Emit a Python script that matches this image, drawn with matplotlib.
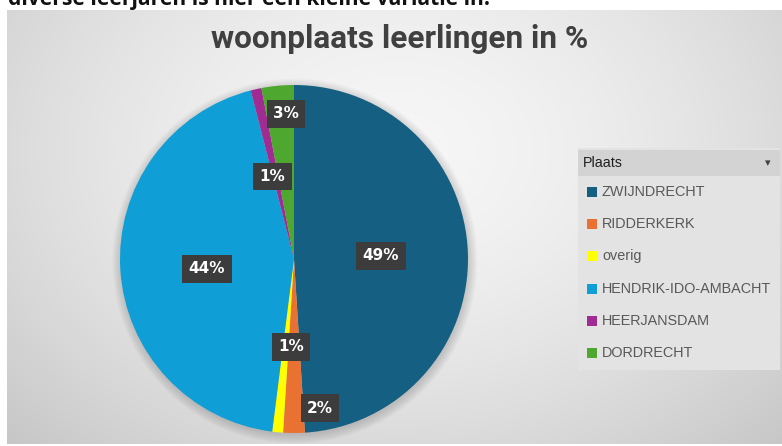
import numpy as np
import matplotlib
matplotlib.use('Agg')
import matplotlib.pyplot as plt
from matplotlib.patches import Rectangle, Circle

# ---- data ----
places = ['ZWIJNDRECHT', 'RIDDERKERK', 'overig', 'HENDRIK-IDO-AMBACHT', 'HEERJANSDAM', 'DORDRECHT']
shares = [49, 2, 1, 44, 1, 3]
colors = ['#156082', '#E97132', '#FFFF00', '#0F9ED5', '#A02B93', '#4EA72E']
title = 'woonplaats leerlingen in %'
legend_title = 'Plaats'
top_text = 'diverse leerjaren is hier een kleine variatie in.'

W, H = 782, 446
fig = plt.figure(figsize=(W / 100, H / 100), dpi=100)
fig.patch.set_facecolor('white')


def px(x0, y0, x1, y1):
    return [x0 / W, 1 - y1 / H, (x1 - x0) / W, (y1 - y0) / H]


# ---- chart area background (gradient) ----
bg = fig.add_axes(px(7, 10, 782, 444))
bg.set_axis_off()
yy, xx = np.mgrid[0:434, 0:775]
d = np.sqrt(((xx - 390) / 480.0) ** 2 + ((yy - 140) / 360.0) ** 2)
val = 0.965 - 0.15 * np.clip(d, 0, 1.3) ** 1.6
bg.imshow(np.dstack([val] * 3), extent=[0, 1, 0, 1], aspect='auto', origin='upper')
bg.set_xlim(0, 1)
bg.set_ylim(0, 1)

renderer = fig.canvas.get_renderer()


def fit_text(t, target_w):
    bb = t.get_window_extent(renderer=renderer)
    t.set_fontsize(t.get_fontsize() * target_w / bb.width)


# ---- cut-off text at the very top ----
tt = fig.text(8 / W, 1 - 5.5 / H, top_text, ha='left', va='baseline',
              fontsize=16, color='#111111', family='Open Sans', fontweight='bold')
fit_text(tt, 480)

# ---- title ----
ti = fig.text(400 / W, 1 - 48 / H, title, ha='center', va='baseline',
              fontsize=20, color='#404040', fontweight='bold', family='Roboto')
fit_text(ti, 376)

# ---- pie ----
R, PCX, PCY = 174, 294, 259
ax = fig.add_axes(px(PCX - R, PCY - R, PCX + R, PCY + R))
ax.set_axis_off()
for k in range(8):
    ax.add_patch(Circle((0.005, -0.012), 1.0 + 0.007 * k, facecolor='black', alpha=0.018,
                        lw=0, zorder=0, clip_on=False))
wedges, _ = ax.pie(shares, colors=colors, startangle=90, counterclock=False,
                   radius=1, wedgeprops=dict(linewidth=0))
ax.set_xlim(-1, 1)
ax.set_ylim(-1, 1)

label_r = [0.50, 0.87, 0.506, 0.503, 0.49, 0.835]
label_dang = [0.2, 9.9, 3.4, 2.9, 2.2, -2.2]
for w, s, r, da in zip(wedges, shares, label_r, label_dang):
    ang = np.deg2rad((w.theta1 + w.theta2) / 2 + da)
    x, y = r * np.cos(ang), r * np.sin(ang)
    ax.text(x, y, f'{s}%', ha='center', va='center', color='white',
            fontsize=11, fontweight='bold', zorder=5,
            bbox=dict(boxstyle='square,pad=0.42', fc='#3c3c3c', ec='none'))

# ---- legend (slicer-like box) ----
fig.patches.append(Rectangle((578 / W, 1 - 370 / H), 202 / W, 222 / H,
                             transform=fig.transFigure, fc='#e3e3e3', ec='none', zorder=1))
fig.patches.append(Rectangle((578 / W, 1 - 176 / H), 202 / W, 26 / H,
                             transform=fig.transFigure, fc='#d3d3d3', ec='none', zorder=2))
fig.text(583 / W, 1 - 163 / H, legend_title, ha='left', va='center', fontsize=10.3,
         color='#1f1f1f', family='Liberation Sans', zorder=3)
fig.text(768 / W, 1 - 163 / H, '\u25BE', ha='center', va='center', fontsize=8,
         color='#404040', family='DejaVu Sans', zorder=3)
for i, (name, c) in enumerate(zip(places, colors)):
    yc = 192 + i * 32.2
    fig.patches.append(Rectangle((587 / W, 1 - (yc + 5) / H), 10 / W, 10 / H,
                                 transform=fig.transFigure, fc=c, ec='none', zorder=3))
    fig.text(602 / W, 1 - yc / H, name, ha='left', va='center', fontsize=10.4,
             color='#595959', family='Liberation Sans', zorder=3)

fig.savefig('out.png', dpi=100)
